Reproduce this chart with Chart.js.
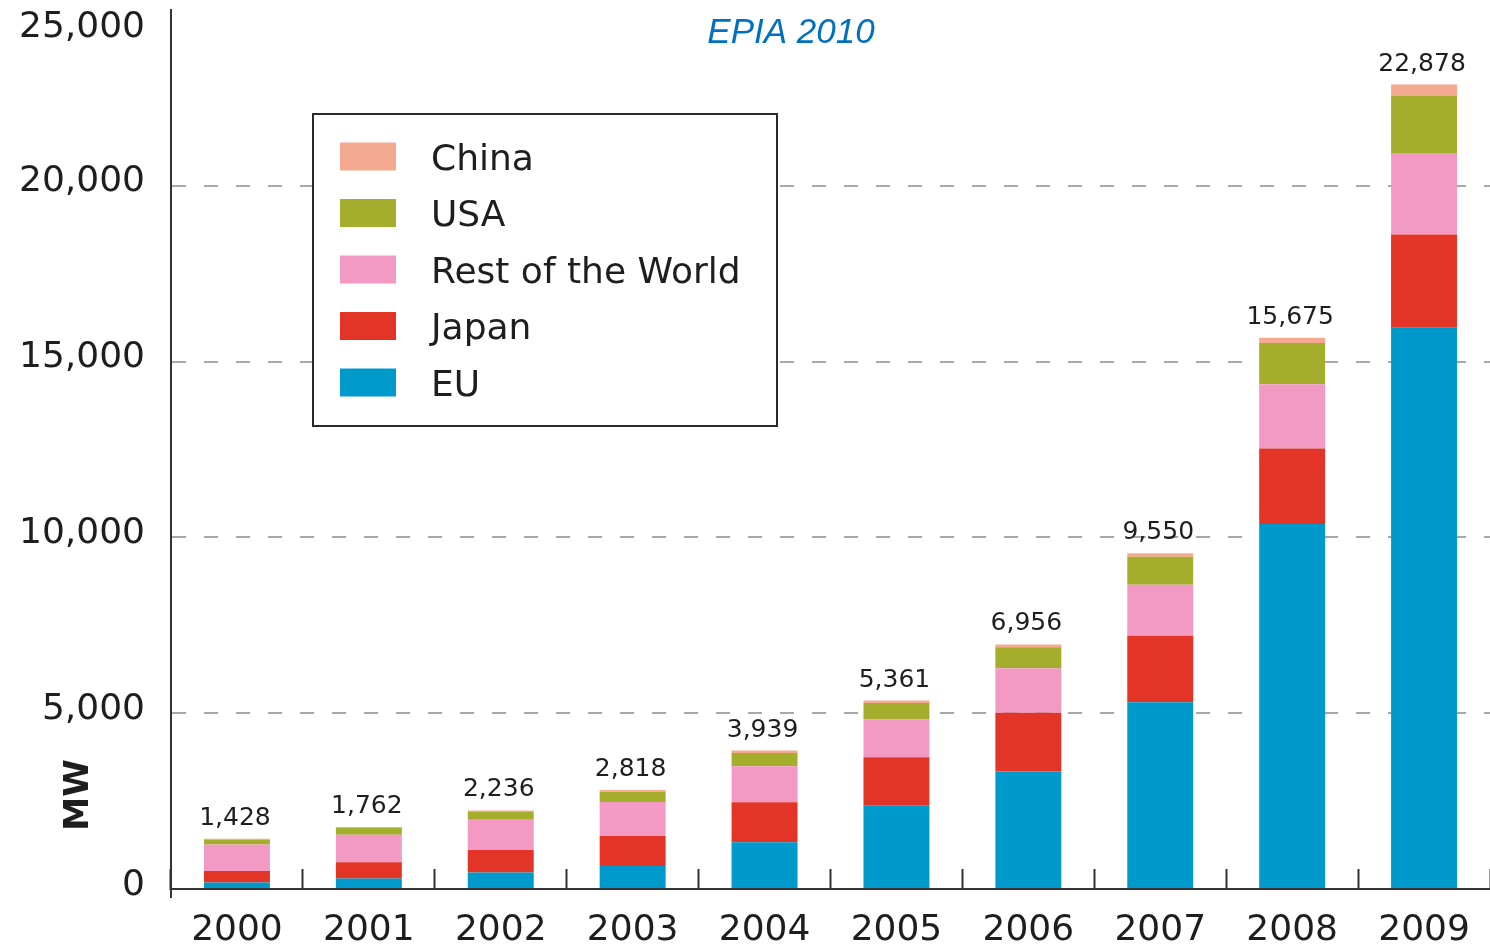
<!DOCTYPE html>
<html>
<head>
<meta charset="utf-8">
<title>Global cumulative PV capacity</title>
<script src="https://cdn.jsdelivr.net/npm/chart.js@4.4.1/dist/chart.umd.min.js"></script>
<style>
  html, body { margin: 0; padding: 0; background: #fff; }
  canvas { display: block; }
</style>
</head>
<body>
<canvas id="pv" width="1490" height="949"></canvas>
<script>
// cumulative installed capacity, MW
var years = ['2000', '2001', '2002', '2003', '2004', '2005', '2006', '2007', '2008', '2009'];
var eu = [185, 300, 470, 655, 1330, 2370, 3345, 5310, 10380, 15965];
var japan = [330, 460, 637, 855, 1140, 1380, 1665, 1895, 2145, 2650];
var restOfWorld = [750, 782, 865, 965, 1020, 1080, 1265, 1445, 1830, 2295];
var usa = [140, 190, 220, 290, 379, 461, 601, 800, 1175, 1660];
var china = [23, 30, 44, 53, 70, 70, 80, 100, 145, 308];
var yTicks = [0, 5000, 10000, 15000, 20000, 25000];

var FONT = '"DejaVu Sans", sans-serif';
var INK = '#1e1e1e';

function fmt(v) {
    return v.toLocaleString('en-US');
}

// labels, legend box, axis title and heading drawn on top of the chart
var decorations = {
    id: 'decorations',
    afterDraw: function (chart) {
        var ctx = chart.ctx;
        var ys = chart.scales.y;
        var area = chart.chartArea;
        ctx.save();

        // y axis runs a little past the x axis
        ctx.strokeStyle = '#333';
        ctx.lineWidth = 2;
        ctx.beginPath();
        ctx.moveTo(area.left, area.bottom);
        ctx.lineTo(area.left, area.bottom + 9);
        ctx.stroke();

        // y tick labels
        ctx.font = '36px ' + FONT;
        ctx.fillStyle = INK;
        ctx.textAlign = 'right';
        ctx.textBaseline = 'alphabetic';
        yTicks.forEach(function (v) {
            var py = ys.getPixelForValue(v) + 5.5;
            ctx.fillText(fmt(v), 145, Math.max(py, 37));
        });

        // stack totals
        var metas = chart.data.datasets.map(function (d, i) { return chart.getDatasetMeta(i); });
        var top = metas[metas.length - 1];
        ctx.font = '25px ' + FONT;
        ctx.textAlign = 'center';
        years.forEach(function (yr, i) {
            var total = 0;
            chart.data.datasets.forEach(function (d) { total += d.data[i]; });
            var bar = top.data[i];
            ctx.fillText(fmt(total), bar.x - 2, ys.getPixelForValue(total) - 14);
        });

        // legend box
        ctx.fillStyle = '#fff';
        ctx.fillRect(313, 114, 464, 312);
        ctx.strokeStyle = '#2a2a2a';
        ctx.lineWidth = 2;
        ctx.strokeRect(313, 114, 464, 312);
        var order = chart.data.datasets.slice().reverse();
        ctx.font = '36px ' + FONT;
        ctx.textAlign = 'left';
        order.forEach(function (d, i) {
            var cy = 156.5 + i * 56.5;
            ctx.fillStyle = d.backgroundColor;
            ctx.fillRect(340, cy - 14, 56, 28);
            ctx.fillStyle = INK;
            ctx.fillText(d.label, 431, cy + 13);
        });

        // axis title
        ctx.save();
        ctx.translate(88, 795);
        ctx.rotate(-Math.PI / 2);
        ctx.font = 'bold 34px ' + FONT;
        ctx.textAlign = 'center';
        ctx.fillText('MW', 0, 0);
        ctx.restore();

        // heading
        ctx.font = 'italic 35px "Liberation Sans", Arial, sans-serif';
        ctx.fillStyle = '#0070C0';
        ctx.textAlign = 'center';
        ctx.fillText('EPIA 2010', 791, 43);

        ctx.restore();
    }
};

var ctx = document.getElementById('pv').getContext('2d');
var chart = new Chart(ctx, {
    type: 'bar',
    data: {
        labels: years,
        datasets: [
            { label: 'EU', data: eu, backgroundColor: '#0099CB' },
            { label: 'Japan', data: japan, backgroundColor: '#E23427' },
            { label: 'Rest of the World', data: restOfWorld, backgroundColor: '#F29AC3' },
            { label: 'USA', data: usa, backgroundColor: '#A5AE2C' },
            { label: 'China', data: china, backgroundColor: '#F4AA90' }
        ]
    },
    options: {
        responsive: false,
        animation: false,
        layout: { padding: { top: 10, left: 0, right: 0, bottom: 0 } },
        datasets: {
            bar: { barPercentage: 0.5, categoryPercentage: 1.0, borderWidth: 0 }
        },
        plugins: {
            legend: { display: false },
            tooltip: { enabled: false },
            title: { display: false }
        },
        scales: {
            x: {
                stacked: true,
                grid: {
                    display: true,
                    offset: true,
                    drawOnChartArea: false,
                    drawTicks: true,
                    tickLength: -20,
                    tickColor: '#333',
                    tickWidth: 2
                },
                border: { display: true, color: '#333', width: 2 },
                ticks: {
                    font: { family: FONT, size: 36 },
                    color: INK,
                    padding: 40,
                    maxRotation: 0
                },
                afterFit: function (scale) {
                    scale.height = 60;
                    scale.paddingLeft = 0;
                    scale.paddingRight = 0;
                }
            },
            y: {
                stacked: true,
                min: 0,
                max: 25000,
                ticks: { stepSize: 5000, display: false },
                grid: {
                    drawTicks: false,
                    lineWidth: 2,
                    color: function (c) {
                        var v = c.tick ? c.tick.value : 0;
                        return (v === 0 || v === 25000) ? 'rgba(0,0,0,0)' : '#a8a8a8';
                    }
                },
                border: { display: true, color: '#333', width: 2, dash: [14, 18] },
                afterFit: function (scale) {
                    scale.width = 171;
                    scale.paddingTop = 0;
                    scale.paddingBottom = 0;
                }
            }
        }
    },
    plugins: [decorations]
});
</script>
</body>
</html>
